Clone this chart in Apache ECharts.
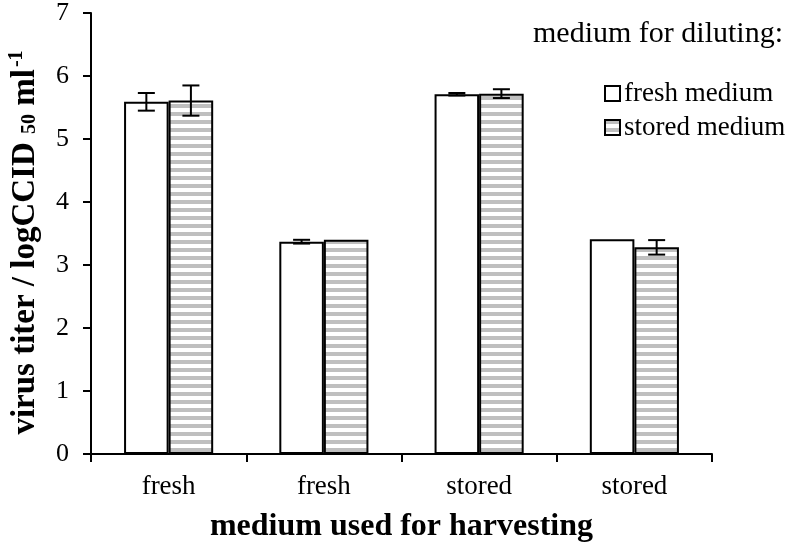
<!DOCTYPE html>
<html>
<head>
<meta charset="utf-8">
<script src="https://cdn.jsdelivr.net/npm/echarts@6/dist/echarts.min.js"></script>
<style>html,body{margin:0;padding:0;background:#fff}#c{width:787px;height:547px}</style>
</head>
<body>
<div id="c"></div>
<script>
const categories = ['fresh', 'fresh', 'stored', 'stored'];
const freshMedium = [5.59, 3.37, 5.71, 3.41];
const freshMediumErr = [0.14, 0.03, 0.02, 0];
const storedMedium = [5.61, 3.40, 5.72, 3.28];
const storedMediumErr = [0.24, 0, 0.07, 0.115];
const yTicks = [0, 1, 2, 3, 4, 5, 6, 7];

const FONT = '"Liberation Serif", "Times New Roman", serif';

// stripe pattern
const pc = document.createElement('canvas');
pc.width = 8; pc.height = 8;
const pctx = pc.getContext('2d');
pctx.fillStyle = '#ffffff'; pctx.fillRect(0, 0, 8, 8);
pctx.fillStyle = '#bfbfbf'; pctx.fillRect(0, 0, 8, 4);
const stripe = { image: pc, repeat: 'repeat' };

const BAR_RATIO = 0.287;

function errSeries(name, vals, errs, sign) {
  return {
    type: 'custom',
    name: name + '_err',
    z: 10,
    silent: true,
    data: vals.map((v, i) => [i, v, errs[i]]),
    renderItem: function (params, api) {
      const e = api.value(2);
      if (!(e > 0.001)) return null;
      const i = api.value(0), v = api.value(1);
      const band = api.size([1, 0])[0];
      const off = sign * band * BAR_RATIO / 2;
      const top = api.coord([i, v + e]);
      const bot = api.coord([i, v - e]);
      const x = top[0] + off;
      const cap = 8.5;
      const style = { stroke: '#000', lineWidth: 2 };
      return {
        type: 'group',
        children: [
          { type: 'line', shape: { x1: x, y1: top[1], x2: x, y2: bot[1] }, style },
          { type: 'line', shape: { x1: x - cap, y1: top[1], x2: x + cap, y2: top[1] }, style },
          { type: 'line', shape: { x1: x - cap, y1: bot[1], x2: x + cap, y2: bot[1] }, style }
        ]
      };
    }
  };
}

const chart = echarts.init(document.getElementById('c'), null, { renderer: 'canvas' });
chart.setOption({
  animation: false,
  backgroundColor: '#fff',
  textStyle: { fontFamily: FONT, color: '#000' },
  grid: { left: 91, right: 75, top: 13, bottom: 93, containLabel: false, outerBoundsMode: 'none' },
  graphic: [{
    type: 'text', left: 533, top: 19,
    style: { text: 'medium for diluting:', font: '30px ' + FONT, fill: '#000' }
  }],
  legend: {
    orient: 'vertical',
    left: 599, top: 75,
    itemWidth: 15, itemHeight: 15, itemGap: 7,
    icon: 'rect',
    textStyle: { fontFamily: FONT, fontSize: 27, color: '#000', padding: [0, 0, 0, -1] },
    data: [
      { name: 'fresh medium', itemStyle: { color: '#fff', borderColor: '#000', borderWidth: 2 } },
      { name: 'stored medium', itemStyle: { color: stripe, borderColor: '#000', borderWidth: 2 } }
    ]
  },
  xAxis: {
    type: 'category',
    data: categories,
    name: 'medium used for harvesting',
    nameLocation: 'middle',
    nameGap: 57,
    nameTextStyle: { fontFamily: FONT, fontSize: 32, fontWeight: 'bold', color: '#000' },
    axisLine: { lineStyle: { color: '#000', width: 2 } },
    axisTick: { show: true, length: 8, lineStyle: { color: '#000', width: 2 } },
    axisLabel: { fontFamily: FONT, fontSize: 27, color: '#000', margin: 19 },
    splitLine: { show: false }
  },
  yAxis: {
    type: 'value',
    min: 0, max: 7, interval: 1,
    name: '{b|virus titer / logCCID }{sub|50}{b| ml}{sup|-1}',
    nameLocation: 'middle',
    nameGap: 39,
    nameRotate: 90,
    nameTextStyle: {
      fontFamily: FONT, fontSize: 33, fontWeight: 'bold', color: '#000',
      padding: [0, 18, 0, 0],
      rich: {
        b: { fontFamily: FONT, fontSize: 33, fontWeight: 'bold', color: '#000', lineHeight: 40, verticalAlign: 'middle' },
        sub: { fontFamily: FONT, fontSize: 20, fontWeight: 'bold', color: '#000', lineHeight: 40, verticalAlign: 'bottom', padding: [0, 0, 5, 0] },
        sup: { fontFamily: FONT, fontSize: 20, fontWeight: 'bold', color: '#000', lineHeight: 40, verticalAlign: 'top', padding: [2, 0, 0, 2] }
      }
    },
    axisLine: { show: true, lineStyle: { color: '#000', width: 2 } },
    axisTick: { show: true, length: 8, lineStyle: { color: '#000', width: 2 } },
    axisLabel: { fontFamily: FONT, fontSize: 26, color: '#000', margin: 22, formatter: v => yTicks.indexOf(v) >= 0 ? String(v) : '' },
    splitLine: { show: false }
  },
  series: [
    {
      name: 'fresh medium', type: 'bar', data: freshMedium,
      barWidth: (BAR_RATIO * 100) + '%', barGap: '0%',
      itemStyle: { color: '#fff', borderColor: '#000', borderWidth: 2 }
    },
    {
      name: 'stored medium', type: 'bar', data: storedMedium,
      barWidth: (BAR_RATIO * 100) + '%', barGap: '0%',
      itemStyle: { color: stripe, borderColor: '#000', borderWidth: 2 }
    },
    errSeries('fresh medium', freshMedium, freshMediumErr, -1),
    errSeries('stored medium', storedMedium, storedMediumErr, 1)
  ]
});
</script>
</body>
</html>
